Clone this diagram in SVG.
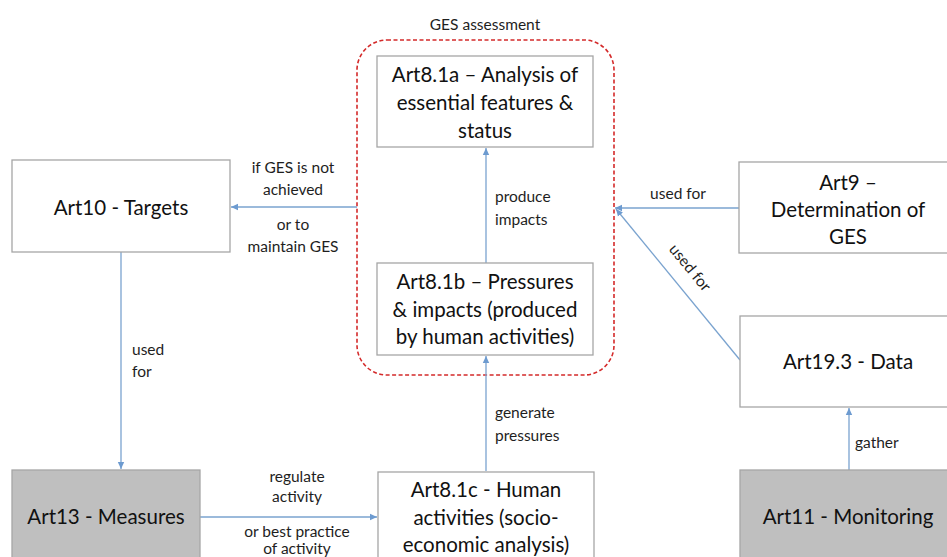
<svg xmlns="http://www.w3.org/2000/svg" width="947" height="557" viewBox="0 0 947 557">
<style>
.box{fill:#fff;stroke:#a6a6a6;stroke-width:1.3}
.gray{fill:#bfbfbf;stroke:#a6a6a6;stroke-width:1.3}
.t{font-family:Lato,"Open Sans",sans-serif;font-size:20.5px;fill:#111;text-anchor:middle}
.l{font-family:Lato,"Open Sans",sans-serif;font-size:15.5px;fill:#1e1e1e}
.c{fill:none;stroke:#7aa3cf;stroke-width:1.3}
</style>
<defs>
<marker id="ah" markerWidth="8" markerHeight="8" refX="7" refY="4" orient="auto" markerUnits="userSpaceOnUse">
<path d="M0,0.8 L7,4 L0,7.2 Z" fill="#6d9bd0"/>
</marker>
</defs>
<rect width="947" height="557" fill="#fff"/>
<g id="ges">
<rect x="357" y="40" width="257" height="335" rx="30" ry="30" fill="none" stroke="#d42a2a" stroke-width="1.6" stroke-dasharray="4,2.5"/>
<text class="l" x="485" y="30" text-anchor="middle">GES assessment</text>
</g>
<g id="connectors">
<line class="c" x1="486" y1="263" x2="486" y2="148" marker-end="url(#ah)"/>
<line class="c" x1="486" y1="471" x2="486" y2="356" marker-end="url(#ah)"/>
<line class="c" x1="357" y1="207" x2="231" y2="207" marker-end="url(#ah)"/>
<line class="c" x1="121" y1="252" x2="121" y2="469" marker-end="url(#ah)"/>
<line class="c" x1="200" y1="517" x2="377" y2="517" marker-end="url(#ah)"/>
<line class="c" x1="739" y1="208" x2="615" y2="208" marker-end="url(#ah)"/>
<line class="c" x1="740" y1="360" x2="616" y2="209" marker-end="url(#ah)"/>
<line class="c" x1="849" y1="470" x2="849" y2="408" marker-end="url(#ah)"/>
<text class="l" x="495" y="202">produce</text>
<text class="l" x="495" y="225">impacts</text>
<text class="l" x="495" y="418">generate</text>
<text class="l" x="495" y="441">pressures</text>
<text class="l" x="293" y="173" text-anchor="middle">if GES is not</text>
<text class="l" x="293" y="195" text-anchor="middle">achieved</text>
<text class="l" x="293" y="230" text-anchor="middle">or to</text>
<text class="l" x="293" y="252" text-anchor="middle">maintain GES</text>
<text class="l" x="132" y="355">used</text>
<text class="l" x="132" y="377">for</text>
<text class="l" x="297" y="482" text-anchor="middle">regulate</text>
<text class="l" x="297" y="502" text-anchor="middle">activity</text>
<text class="l" x="297" y="537" text-anchor="middle">or best practice</text>
<text class="l" x="297" y="554" text-anchor="middle">of activity</text>
<text class="l" x="678" y="199" text-anchor="middle">used for</text>
<text class="l" x="0" y="0" text-anchor="middle" transform="translate(686,271) rotate(50.6)">used for</text>
<text class="l" x="855" y="448">gather</text>
</g>
<g id="art81a">
<rect class="box" x="377" y="56" width="216" height="91"/>
<text class="t" x="485" y="82">Art8.1a – Analysis of</text>
<text class="t" x="485" y="110">essential features &amp;</text>
<text class="t" x="485" y="138">status</text>
</g>
<g id="art81b">
<rect class="box" x="377" y="263" width="216" height="92"/>
<text class="t" x="485" y="289">Art8.1b – Pressures</text>
<text class="t" x="485" y="317">&amp; impacts (produced</text>
<text class="t" x="485" y="344">by human activities)</text>
</g>
<g id="art81c">
<rect class="box" x="378" y="472" width="216" height="100"/>
<text class="t" x="486" y="497">Art8.1c - Human</text>
<text class="t" x="486" y="525">activities (socio-</text>
<text class="t" x="486" y="552">economic analysis)</text>
</g>
<g id="art10">
<rect class="box" x="12" y="160" width="218" height="92"/>
<text class="t" x="121" y="215">Art10 - Targets</text>
</g>
<g id="art13">
<rect class="gray" x="12" y="470" width="188" height="100"/>
<text class="t" x="106" y="524">Art13 - Measures</text>
</g>
<g id="art9">
<rect class="box" x="739" y="162" width="218" height="91"/>
<text class="t" x="848" y="190">Art9 –</text>
<text class="t" x="848" y="217">Determination of</text>
<text class="t" x="848" y="244">GES</text>
</g>
<g id="art193">
<rect class="box" x="740" y="316" width="217" height="91"/>
<text class="t" x="848" y="369">Art19.3 - Data</text>
</g>
<g id="art11">
<rect class="gray" x="740" y="470" width="217" height="100"/>
<text class="t" x="848" y="524">Art11 - Monitoring</text>
</g>
</svg>
